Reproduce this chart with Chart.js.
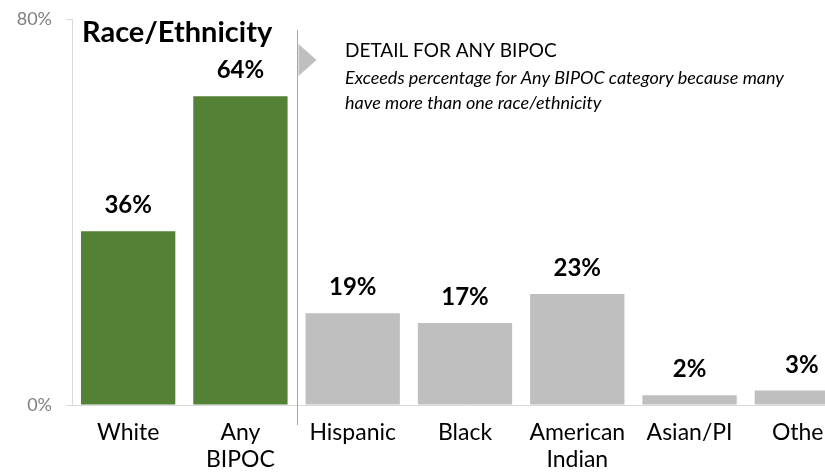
<!DOCTYPE html>
<html lang="en">
  <head>
    <meta charset="UTF-8" />
    <title>Race/Ethnicity</title>
    <script src="https://cdn.jsdelivr.net/npm/chart.js"></script>
    <style>
      body {
        margin: 0;
        overflow: hidden;
        background: #fff;
      }
      #wrap {
        width: 870px;
        height: 475px;
      }
    </style>
  </head>
  <body>
    <div id="wrap"><canvas id="raceChart"></canvas></div>

    <script>
      const categories = [
        "White",
        ["Any", "BIPOC"],
        "Hispanic",
        "Black",
        ["American", "Indian"],
        "Asian/PI",
        "Other",
      ];
      const values = [36, 64, 19, 17, 23, 2, 3];
      const barColors = [
        "#538135",
        "#538135",
        "#bfbfbf",
        "#bfbfbf",
        "#bfbfbf",
        "#bfbfbf",
        "#bfbfbf",
      ];
      const yTicks = [0, 80];

      const FONT = "Lato, 'Noto Sans', sans-serif";

      // labels above bars + separator and notes
      const extras = {
        id: "extras",
        afterDatasetsDraw(chart) {
          const ctx = chart.ctx;
          const meta = chart.getDatasetMeta(0);
          ctx.save();
          ctx.fillStyle = "#000";
          ctx.font = "bold 24px " + FONT;
          ctx.textAlign = "center";
          ctx.textBaseline = "alphabetic";
          meta.data.forEach((bar, i) => {
            ctx.fillText(values[i] + "%", bar.x, bar.y - 18);
          });

          // divider between the two groups
          const x = chart.scales.x;
          const sepX = Math.round((x.getPixelForValue(1) + x.getPixelForValue(2)) / 2) + 0.5;
          ctx.strokeStyle = "#a6a6a6";
          ctx.lineWidth = 1;
          ctx.beginPath();
          ctx.moveTo(sepX, 30);
          ctx.lineTo(sepX, 425);
          ctx.stroke();

          ctx.fillStyle = "#bfbfbf";
          ctx.beginPath();
          ctx.moveTo(sepX + 1, 44);
          ctx.lineTo(sepX + 19, 60);
          ctx.lineTo(sepX + 1, 76);
          ctx.closePath();
          ctx.fill();

          ctx.fillStyle = "#000";
          ctx.textAlign = "left";
          ctx.font = "bold 29px " + FONT;
          ctx.fillText("Race/Ethnicity", 82, 42);

          ctx.font = "19px " + FONT;
          ctx.fillText("DETAIL FOR ANY BIPOC", 345, 57);
          ctx.font = "italic 18px " + FONT;
          ctx.fillText("Exceeds percentage for Any BIPOC category because many", 345, 84);
          ctx.fillText("have more than one race/ethnicity", 345, 109);
          ctx.restore();
        },
      };

      new Chart(document.getElementById("raceChart"), {
        type: "bar",
        data: {
          labels: categories,
          datasets: [
            {
              data: values,
              backgroundColor: barColors,
              barPercentage: 0.84,
              categoryPercentage: 1,
            },
          ],
        },
        options: {
          responsive: true,
          maintainAspectRatio: false,
          animation: false,
          layout: { padding: { top: 19, right: 12, left: 0, bottom: 0 } },
          plugins: {
            legend: { display: false },
            tooltip: { enabled: false },
          },
          scales: {
            x: {
              grid: { display: false, drawTicks: false },
              border: { display: true, color: "#d9d9d9", width: 1 },
              ticks: {
                color: "#000",
                font: { family: FONT, size: 23, lineHeight: 1.17 },
                padding: 14,
                maxRotation: 0,
                autoSkip: false,
              },
              afterFit(scale) {
                scale.height = 70;
                scale.paddingLeft = 0;
                scale.paddingRight = 0;
              },
            },
            y: {
              min: 0,
              max: 80,
              afterBuildTicks(scale) {
                scale.ticks = yTicks.map((v) => ({ value: v }));
              },
              grid: {
                display: true,
                drawOnChartArea: false,
                tickLength: 6,
                color: "#d9d9d9",
              },
              border: { display: true, color: "#d9d9d9", width: 1 },
              ticks: {
                color: "#7f7f7f",
                font: { family: FONT, size: 18 },
                padding: 14,
                callback: (v) => v + "%",
              },
              afterFit(scale) {
                scale.width = 72;
                scale.paddingTop = 0;
                scale.paddingBottom = 0;
              },
            },
          },
        },
        plugins: [extras],
      });
    </script>
  </body>
</html>
